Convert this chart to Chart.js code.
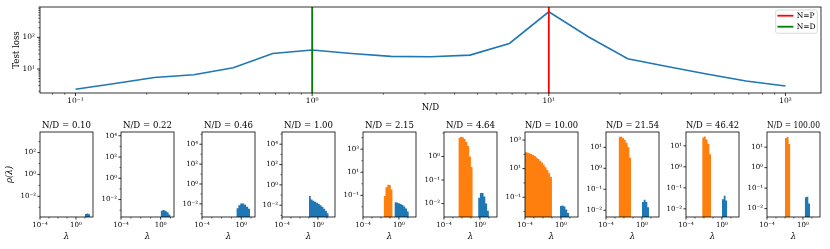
<!DOCTYPE html>
<html><head><meta charset="utf-8">
<script src="https://cdn.jsdelivr.net/npm/chart.js@4/dist/chart.umd.min.js"></script>
<style>
html,body{margin:0;padding:0;background:#fff;width:830px;height:249px;overflow:hidden;}
#wrap{position:relative;width:830px;height:249px;}
canvas{position:absolute;}
</style></head><body><div id="wrap"><canvas id="top" width="830" height="116" style="left:0;top:0"></canvas></div>
<script>
// ---------------- top panel data ----------------
const nOverD = [0.1, 0.1468, 0.2154, 0.3162, 0.4642, 0.6813, 1.0, 1.4678, 2.1544, 3.1623, 4.6416, 6.8129, 10.0, 14.678, 21.544, 31.623, 46.416, 68.129, 100.0];
const testLoss = [2.3, 3.5, 5.4, 6.6, 11.0, 31, 40, 31, 25, 24.5, 27.5, 64, 640, 104, 21, 12, 7.0, 4.2, 2.9];
const lineNP = 10;   // N = P
const lineND = 1;    // N = D
const topXMin = 0.0708, topXMax = 141.3;
const topYMin = 1.75, topYMax = 905;

// ---------------- spectra panels ----------------
const panelRatios = [0.10, 0.22, 0.46, 1.00, 2.15, 4.64, 10.00, 21.54, 46.42, 100.00];
const binWidthDec = 0.2;                       // histogram bin width in decades of lambda
// log10(lambda) of the first bin's left edge, and log10(rho) of each bin
const orangeStart = [null, null, null, null, -1.7, -2.4, -4.0, -2.6, -2.2, -2.0];
const orangeLogRho = [
  [], [], [], [],
  [-1.05, -0.3, -0.08, -0.1, -0.5],
  [0.8, 0.84, 0.82, 0.74, 0.62, 0.45, 0.0, -0.45],
  [2.15, 2.12, 2.07, 2.02, 1.96, 1.88, 1.78, 1.67, 1.55, 1.42, 1.27, 1.1, 0.9, 0.68, 0.42],
  [1.5, 1.5, 1.45, 1.35, 1.22, 1.0, 0.5],
  [1.4, 1.44, 1.3, 1.1, 0.6],
  [1.45, 1.5, 1.15]
];
const blueStart = [1.0, 0.0, -0.5, -1.0, -0.5, -0.2, -0.1, 0.0, 0.0, 0.2];
const blueLogRho = [
  [-3.62, -3.58, -3.65],
  [-3.05, -2.98, -3.05, -3.2, -3.4],
  [-2.45, -2.15, -1.95, -1.95, -2.1, -2.3, -2.5],
  [-1.1, -1.45, -1.55, -1.65, -1.75, -1.88, -2.0, -2.15, -2.35, -2.55, -2.8],
  [-1.6, -1.62, -1.68, -1.75, -1.85, -1.98, -2.15, -2.4],
  [-1.75, -1.55, -1.55, -1.7, -2.0, -2.3],
  [-1.62, -1.58, -1.65, -1.85, -2.1],
  [-1.6, -1.5, -1.6, -1.85],
  [-1.55, -1.38, -1.6],
  [-1.45, -1.42, -1.75]
];
// axis limits (log10) and labelled decades
const panelXMinExp = -4;
const panelXMaxExp = [1.9, 1.35, 1.4, 1.9, 1.9, 1.9, 1.9, 1.9, 1.9, 1.9];
const panelXLabeled = [-4, 0];
const panelYMinExp = [-3.89, -3.64, -3.32, -3.16, -2.88, -2.57, -2.38, -2.32, -2.39, -2.41];
const panelYMaxExp = [3.88, 4.35, 5.23, 5.2, 4.49, 1.04, 3.56, 1.73, 1.66, 1.74];
const panelYLabeled = [[-2,0,2],[-2,0,2,4],[-2,0,2,4],[-2,0,2,4],[-1,1,3],[-2,-1,0],[-1,1,3],[-2,-1,0,1],[-2,-1,0,1],[-2,-1,0,1]];

// layout (page pixels) of the panel plot areas
const panelLeftPx = [40, 121, 202, 282, 363, 444, 525, 606, 686, 767];

// ---------------- helpers ----------------
Chart.defaults.font.family = "'DejaVu Serif', serif";
Chart.defaults.color = '#000';
const SUP = {'-':'\u207B','0':'\u2070','1':'\u00B9','2':'\u00B2','3':'\u00B3','4':'\u2074','5':'\u2075','6':'\u2076','7':'\u2077','8':'\u2078','9':'\u2079'};
function pow10Label(e){ return '10' + String(e).split('').map(c => SUP[c]).join(''); }
function expOf(v){ return Math.round(Math.log10(v)); }
function logTicksWithSubs(min, max){
  const t = [];
  for (let e = Math.floor(Math.log10(min)); e <= Math.ceil(Math.log10(max)); e++)
    for (let m = 1; m <= 9; m++) { const v = m * Math.pow(10, e); if (v >= min*0.9999 && v <= max*1.0001) t.push({value: v, major: m === 1}); }
  return t;
}
function decadeTicks(minExp, maxExp, labeled){
  const t = [];
  for (let e = Math.ceil(minExp - 1e-9); e <= Math.floor(maxExp + 1e-9); e++) t.push({value: Math.pow(10, e), major: labeled.includes(e)});
  return t;
}
// histogram outline: one point per bin edge, value held until the next edge (stepped line, filled to the axis)
function histEdges(start, logRho){
  const pts = logRho.map((h, i) => ({x: Math.pow(10, start + i * binWidthDec), y: Math.pow(10, h)}));
  pts.push({x: Math.pow(10, start + logRho.length * binWidthDec), y: Math.pow(10, logRho[logRho.length - 1])});
  return pts;
}

// matplotlib-like frame and outward tick marks
const mplAxes = {
  id: 'mplAxes',
  defaults: {major: 3, minor: 1.8},
  afterDraw(chart, args, opts){
    const ctx = chart.ctx, a = chart.chartArea;
    ctx.save();
    ctx.strokeStyle = '#000';
    ['x','y'].forEach(id => {
      const s = chart.scales[id];
      s.ticks.forEach(t => {
        const len = t.major ? opts.major : opts.minor;
        const p = s.getPixelForValue(t.value);
        ctx.lineWidth = t.major ? 0.8 : 0.6;
        ctx.beginPath();
        if (id === 'x') { ctx.moveTo(p, a.bottom); ctx.lineTo(p, a.bottom + len); }
        else { ctx.moveTo(a.left, p); ctx.lineTo(a.left - len, p); }
        ctx.stroke();
      });
    });
    ctx.lineWidth = 0.8;
    ctx.strokeRect(a.left, a.top, a.right - a.left, a.bottom - a.top);
    ctx.restore();
  }
};
Chart.register(mplAxes);

// legend drawn inside the axes, upper right
const mplLegend = {
  id: 'mplLegend',
  afterDraw(chart){
    const ctx = chart.ctx, a = chart.chartArea;
    const items = chart.data.datasets.filter(d => d.inLegend);
    const w = 41.6, h = 23.3, rowH = 11;
    const x0 = a.right - 3.7 - w, y0 = a.top + 3;
    ctx.save();
    ctx.fillStyle = 'rgba(255,255,255,0.8)';
    ctx.strokeStyle = 'rgba(204,204,204,0.9)';
    ctx.lineWidth = 0.8;
    ctx.beginPath(); ctx.roundRect(x0, y0, w, h, 2); ctx.fill(); ctx.stroke();
    ctx.font = "7.5px 'DejaVu Serif'";
    ctx.textBaseline = 'middle';
    ctx.fillStyle = '#000';
    items.forEach((d, i) => {
      const cy = y0 + 5.7 + i * rowH;
      ctx.strokeStyle = d.borderColor; ctx.lineWidth = d.borderWidth;
      ctx.beginPath(); ctx.moveTo(x0 + 1.7, cy); ctx.lineTo(x0 + 17.7, cy); ctx.stroke();
      ctx.fillText(d.label, x0 + 21, cy);
    });
    ctx.restore();
  }
};

// ---------------- top chart ----------------
new Chart(document.getElementById('top'), {
  type: 'line',
  data: {datasets: [
    {label: 'N=P', inLegend: true, data: [{x: lineNP, y: topYMin}, {x: lineNP, y: topYMax}], borderColor: '#ff0000', borderWidth: 1.8, pointRadius: 0},
    {label: 'N=D', inLegend: true, data: [{x: lineND, y: topYMin}, {x: lineND, y: topYMax}], borderColor: '#008000', borderWidth: 1.8, pointRadius: 0},
    {label: 'Test loss', data: nOverD.map((v, i) => ({x: v, y: testLoss[i]})), borderColor: '#1f77b4', borderWidth: 1.6, pointRadius: 0, tension: 0}
  ]},
  options: {
    responsive: false, animation: false, devicePixelRatio: 1,
    layout: {padding: {left: 0, right: 9, top: 7, bottom: 0}},
    plugins: {legend: {display: false}, tooltip: {enabled: false}, mplAxes: {major: 3, minor: 1.7}},
    scales: {
      x: {type: 'logarithmic', min: topXMin, max: topXMax, bounds: 'data',
        grid: {display: false, drawTicks: false}, border: {display: false},
        afterBuildTicks: s => { s.ticks = logTicksWithSubs(s.min, s.max); },
        afterFit: s => { s.height = 23; s.paddingLeft = 0; s.paddingRight = 0; },
        ticks: {autoSkip: false, maxRotation: 0, minRotation: 0, padding: 4, font: {size: 7.5},
          callback: (v, i, t) => t[i].major ? pow10Label(expOf(v)) : ''},
        title: {display: true, text: 'N/D', font: {size: 8.6}, padding: {top: 0, bottom: 2.8}}
      },
      y: {type: 'logarithmic', min: topYMin, max: topYMax, bounds: 'data',
        grid: {display: false, drawTicks: false}, border: {display: false},
        afterBuildTicks: s => { s.ticks = logTicksWithSubs(s.min, s.max); },
        afterFit: s => { s.width = 40; s.paddingTop = 0; s.paddingBottom = 0; },
        ticks: {autoSkip: false, padding: 5, font: {size: 7.5},
          callback: (v, i, t) => t[i].major ? pow10Label(expOf(v)) : ''},
        title: {display: true, text: 'Test loss', font: {size: 8.6}, padding: {top: 11.5, bottom: 0}}
      }
    }
  },
  plugins: [mplLegend]
});

// ---------------- spectrum panels ----------------
const wrap = document.getElementById('wrap');
panelRatios.forEach((r, k) => {
  const cv = document.createElement('canvas');
  cv.width = 100; cv.height = 134;
  cv.style.left = (panelLeftPx[k] - 40) + 'px';
  cv.style.top = '115px';
  wrap.appendChild(cv);
  const histOpts = {stepped: 'before', fill: 'start', borderWidth: 0, pointRadius: 0};
  const datasets = [];
  if (orangeLogRho[k].length) datasets.push(Object.assign({label: 'small eigenvalues', data: histEdges(orangeStart[k], orangeLogRho[k]), backgroundColor: '#ff7f0e', borderColor: '#ff7f0e'}, histOpts));
  datasets.push(Object.assign({label: 'large eigenvalues', data: histEdges(blueStart[k], blueLogRho[k]), backgroundColor: '#1f77b4', borderColor: '#1f77b4'}, histOpts));
  new Chart(cv, {
    type: 'line',
    data: {datasets},
    options: {
      responsive: false, animation: false, devicePixelRatio: 1,
      layout: {padding: {left: 0, right: 7, top: 0, bottom: 0}},
      plugins: {
        legend: {display: false}, tooltip: {enabled: false},
        filler: {propagate: false},
        mplAxes: {major: 2.6, minor: 1.5},
        title: {display: true, text: 'N/D = ' + r.toFixed(2), fullSize: false, font: {size: 8.6, weight: 'normal'}, color: '#000', padding: {top: 5.5, bottom: 1.18}}
      },
      scales: {
        x: {type: 'logarithmic', min: Math.pow(10, panelXMinExp), max: Math.pow(10, panelXMaxExp[k]), bounds: 'data',
          grid: {display: false, drawTicks: false}, border: {display: false},
          afterBuildTicks: s => { s.ticks = decadeTicks(panelXMinExp, panelXMaxExp[k], panelXLabeled); },
          afterFit: s => { s.height = 32; s.paddingLeft = 0; s.paddingRight = 0; },
          ticks: {autoSkip: false, maxRotation: 0, minRotation: 0, padding: 3.5, font: {size: 7},
            callback: (v, i, t) => t[i].major ? pow10Label(expOf(v)) : ''},
          title: {display: true, text: '\u03BB', font: {size: 8.6, style: 'italic'}, padding: {top: 0, bottom: 7.1}}
        },
        y: {type: 'logarithmic', min: Math.pow(10, panelYMinExp[k]), max: Math.pow(10, panelYMaxExp[k]), bounds: 'data',
          grid: {display: false, drawTicks: false}, border: {display: false},
          afterBuildTicks: s => { s.ticks = decadeTicks(panelYMinExp[k], panelYMaxExp[k], panelYLabeled[k]); },
          afterFit: s => { s.width = 40; s.paddingTop = 0; s.paddingBottom = 0; },
          ticks: {autoSkip: false, padding: 4, font: {size: 7},
            callback: (v, i, t) => t[i].major ? pow10Label(expOf(v)) : ''},
          title: {display: k === 0, text: '\u03C1(\u03BB)', font: {size: 8.6, style: 'italic'}, padding: {top: 4.84, bottom: 0}}
        }
      }
    }
  });
});
</script></body></html>
